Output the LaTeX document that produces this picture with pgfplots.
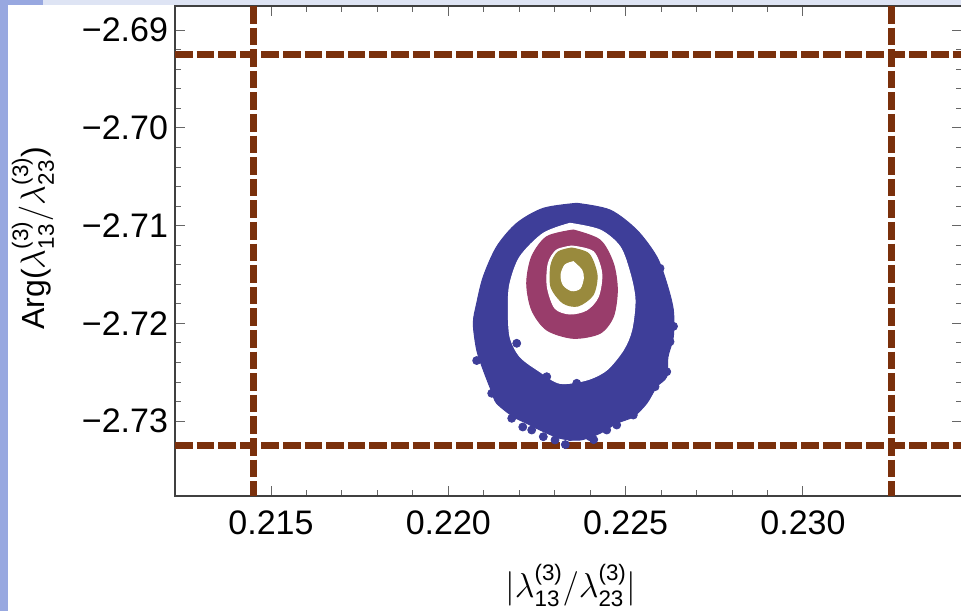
\documentclass[border=0pt]{standalone}
\usepackage{pgfplots}
\pgfplotsset{compat=1.18}
\usepackage{amsmath}
\usepackage{fontspec}
\setmainfont{Liberation Sans}
\definecolor{cblue}{RGB}{62,62,153}
\definecolor{cred}{RGB}{153,61,107}
\definecolor{colive}{RGB}{153,138,61}
\definecolor{cbrown}{RGB}{122,48,12}
\definecolor{stripleft}{RGB}{152,168,224}
\definecolor{striptop}{RGB}{222,228,244}
\begin{document}
\begin{tikzpicture}
\useasboundingbox (0,0) rectangle (480.5pt,305.5pt);
\clip (0,0) rectangle (480.5pt,305.5pt);
\fill[white] (0,0) rectangle (480.5pt,305.5pt);
\fill[striptop] (0,303pt) rectangle (480.5pt,305.5pt);
\fill[stripleft] (0,0) rectangle (4pt,305.5pt);
\fill[stripleft] (0,303pt) rectangle (21.5pt,305.5pt);
\begin{axis}[
  at={(87.5pt,57.5pt)}, anchor=south west,
  scale only axis, width=393.5pt, height=245pt,
  xmin=0.212293, xmax=0.234486, ymin=-2.737664, ymax=-2.687513,
  xtick={0.215,0.220,0.225,0.230},
  xticklabels={0.215,0.220,0.225,0.230},
  ytick={-2.73,-2.72,-2.71,-2.70,-2.69},
  yticklabels={−2.73,−2.72,−2.71,−2.70,−2.69},
  minor x tick num=4, minor y tick num=4,
  tick align=inside,
  major tick length=5pt, minor tick length=3pt,
  axis line style={draw=black!75, line width=0.6pt},
  tick style={black!60, line width=0.5pt},
  tick label style={font=\fontsize{17}{20}\selectfont},
  xticklabel style={yshift=-4pt},
  label style={font=\fontsize{16}{19}\selectfont},
  xlabel={$|\lambda_{\text{13}}^{\text{(3)}}/\lambda_{\text{23}}^{\text{(3)}}|$},
  ylabel={Arg($\lambda_{\text{13}}^{\text{(3)}}/\lambda_{\text{23}}^{\text{(3)}}$)},
  xlabel style={at={(axis description cs:0.503,-0.183)}, anchor=center},
  ylabel style={at={(axis description cs:-0.1804,0.5265)}, anchor=center},
  clip=true,
]
% blue ring: outer region
\addplot[draw=cblue, fill=cblue, line width=0.5pt, smooth] coordinates {
(0.223621,-2.707707) (0.224560,-2.708392) (0.225313,-2.710439) (0.225877,-2.713172)
(0.226159,-2.715895) (0.226345,-2.718627) (0.226345,-2.721360) (0.226195,-2.723407)
(0.226159,-2.725454) (0.225877,-2.726477) (0.225595,-2.728177) (0.225217,-2.729548)
(0.224749,-2.730224) (0.224278,-2.731247) (0.223714,-2.731933) (0.223150,-2.731759)
(0.222586,-2.730909) (0.222211,-2.730224) (0.221833,-2.729548) (0.221365,-2.728177)
(0.221224,-2.726989) (0.220987,-2.724768) (0.220801,-2.722721) (0.220705,-2.719989)
(0.220801,-2.717942) (0.220987,-2.715219) (0.221365,-2.712149) (0.221929,-2.709754)
(0.222679,-2.708218) (0.223621,-2.707707)} -- cycle;
% blue ring: hole
\addplot[draw=white, fill=white, line width=0.5pt, smooth] coordinates {
(0.223432,-2.709754) (0.224278,-2.710439) (0.224842,-2.712149) (0.225124,-2.714871)
(0.225265,-2.717603) (0.225172,-2.720674) (0.224935,-2.722721) (0.224467,-2.724768)
(0.223903,-2.725790) (0.223150,-2.726130) (0.222586,-2.724942) (0.222022,-2.723407)
(0.221740,-2.721360) (0.221692,-2.718289) (0.221740,-2.715895) (0.222022,-2.713172)
(0.222679,-2.710777) (0.223432,-2.709754)} -- cycle;
% blue scattered points along the ragged edges
\addplot[only marks, mark=*, mark size=2pt, cblue, mark options={draw=cblue, fill=cblue}] coordinates {
(0.221224,-2.727153) (0.221788,-2.729712) (0.222352,-2.730909) (0.222679,-2.731595)
(0.223009,-2.731933) (0.223432,-2.731595) (0.223996,-2.731595) (0.224467,-2.730909)
(0.224749,-2.730398) (0.225217,-2.729375) (0.225829,-2.726477) (0.226159,-2.724942)
(0.226252,-2.721872) (0.225970,-2.714359) (0.222775,-2.725454) (0.223621,-2.726130)
(0.221929,-2.722036) (0.223150,-2.731114) (0.224278,-2.730398) (0.222100,-2.730600)
(0.223300,-2.732400) (0.224100,-2.731900) (0.220800,-2.723800) (0.226350,-2.720300)};
% red ring
\addplot[draw=cred, fill=cred, line width=0.5pt, smooth] coordinates {
(0.223525,-2.710439) (0.224278,-2.711463) (0.224653,-2.713848) (0.224766,-2.716580)
(0.224653,-2.719313) (0.224278,-2.721012) (0.223525,-2.721524) (0.222775,-2.720674)
(0.222352,-2.718627) (0.222211,-2.715895) (0.222352,-2.713172) (0.222775,-2.711125)
(0.223525,-2.710439)} -- cycle;
\addplot[draw=white, fill=white, line width=0.5pt, smooth] coordinates {
(0.223480,-2.712077) (0.224089,-2.712660) (0.224326,-2.714871) (0.224230,-2.717266)
(0.223903,-2.718627) (0.223432,-2.719037) (0.223009,-2.718453) (0.222792,-2.716242)
(0.222820,-2.713848) (0.223057,-2.712486) (0.223480,-2.712077)} -- cycle;
% olive ring
\addplot[draw=colive, fill=colive, line width=0.5pt, smooth] coordinates {
(0.223480,-2.712282) (0.223968,-2.712896) (0.224193,-2.715045) (0.224080,-2.717092)
(0.223657,-2.718218) (0.223234,-2.717911) (0.222896,-2.716273) (0.222896,-2.714020)
(0.223093,-2.712691) (0.223480,-2.712282)} -- cycle;
\addplot[draw=white, fill=white, line width=0.5pt, smooth] coordinates {
(0.223525,-2.713684) (0.223762,-2.714533) (0.223807,-2.715383) (0.223714,-2.716406)
(0.223480,-2.716651) (0.223243,-2.716068) (0.223178,-2.715045) (0.223291,-2.714020)
(0.223525,-2.713684)} -- cycle;
% dashed bounds
\addplot[cbrown, line width=3.5pt, dash pattern=on 8.8pt off 2pt] coordinates {(0.212293,-2.6925) (0.234486,-2.6925)};
\addplot[cbrown, line width=3.5pt, dash pattern=on 8.8pt off 2pt] coordinates {(0.212293,-2.7325) (0.234486,-2.7325)};
\addplot[cbrown, line width=3.5pt, dash pattern=on 8.8pt off 2pt] coordinates {(0.2145,-2.687513) (0.2145,-2.737664)};
\addplot[cbrown, line width=3.5pt, dash pattern=on 8.8pt off 2pt] coordinates {(0.2325,-2.687513) (0.2325,-2.737664)};
\end{axis}
\end{tikzpicture}
\end{document}
